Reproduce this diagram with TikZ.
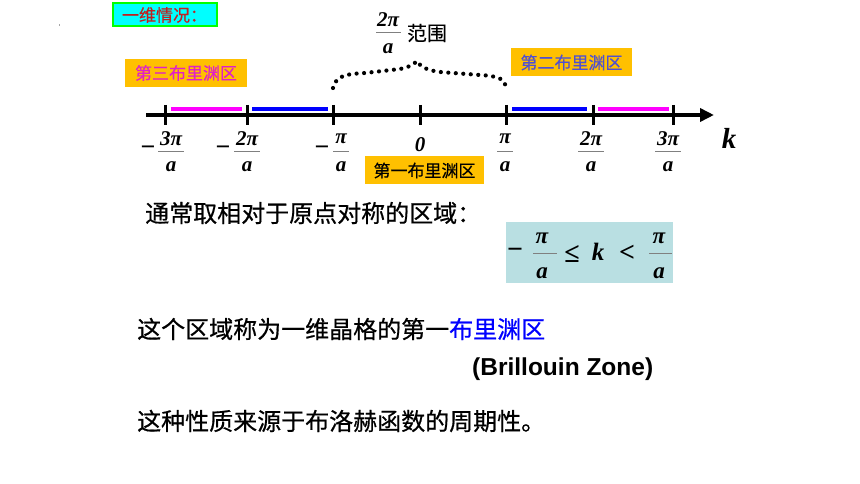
\documentclass[tikz,border=0pt]{standalone}
\usepackage{fontspec}
\setmainfont{Liberation Serif}
\newfontfamily\cjk[FakeBold=0.6]{Noto Sans CJK SC}
\newfontfamily\cjkb[FakeBold=0.3]{Noto Sans CJK SC}
\newfontfamily\arial{Liberation Sans}
\usetikzlibrary{arrows.meta}
\definecolor{zoneorange}{RGB}{255,192,0}
\definecolor{titlered}{RGB}{192,32,32}
\definecolor{titlecyan}{RGB}{0,255,255}
\definecolor{titlegreen}{RGB}{0,255,0}
\definecolor{zonetwo}{RGB}{80,80,208}
\definecolor{zonethree}{RGB}{224,32,200}
\definecolor{formulabg}{RGB}{185,223,226}
\definecolor{segmag}{RGB}{255,0,255}
\definecolor{segblue}{RGB}{0,0,255}
\tikzset{
  axisline/.style={line width=4.5, -{Triangle[length=14,width=13]}},
  tickline/.style={line width=3},
  segline/.style={line width=3.5},
  lab/.style={inner sep=0, font=\fontsize{21}{23}\selectfont\bfseries\itshape},
  minuslab/.style={inner sep=0, font=\fontsize{26}{28}\selectfont\bfseries},
  fbar/.style={line width=1, draw=gray},
  zonebox/.style={fill=zoneorange, inner sep=0, minimum height=28, font=\cjkb\fontsize{17}{19}\selectfont},
  body/.style={inner sep=0, anchor=west, font=\cjk\fontsize{24}{28}\selectfont},
  dotbrace/.style={line width=4.2, line cap=round, dash pattern=on 0pt off 7.5pt},
}
\newcommand\kfrac[4]{%
  \node[lab] (#1n) at (#2,139) {#3};
  \node[lab] (#1d) at (#2,167) {a};
  \draw[fbar] ({#2-#4},152) -- ({#2+#4},152);
}
\begin{document}
\begin{tikzpicture}[x=1pt,y=-1pt]
\useasboundingbox (0,0) rectangle (860,484);
\fill[white] (0,0) rectangle (860,484);
\fill[gray!70] (59,24) rectangle (60,26);

% title box
\node[draw=titlegreen, line width=2, fill=titlecyan, inner sep=0, minimum width=104, minimum height=23,
      font=\cjkb\fontsize{17}{19}\selectfont, text=titlered] (title) at (164.5,15) {一维情况：};

% axis
\coordinate (axL) at (146,115);
\coordinate (axR) at (714,115);
\draw[axisline] (axL) -- (axR);
\foreach \x in {165,247,333,420,506,593,673} {
  \draw[tickline] (\x,105) -- (\x,125);
}
% coloured segments
\draw[segline, segmag] (171,109) -- (242,109);
\draw[segline, segblue] (252,109) -- (328,109);
\draw[segline, segblue] (512,109) -- (587,109);
\draw[segline, segmag] (598,109) -- (669,109);

% tick labels
\node[minuslab] (mm3) at (148,151) {−};
\node[minuslab] (mm2) at (223,151) {−};
\node[minuslab] (mm1) at (322,151) {−};
\kfrac{m3}{171}{3π}{13}
\kfrac{m2}{247}{2π}{13}
\kfrac{m1}{341}{π}{8}
\node[lab] (zero) at (420,145) {0};
\kfrac{p1}{505}{π}{8}
\kfrac{p2}{591}{2π}{13}
\kfrac{p3}{668}{3π}{13}
\node[lab, font=\fontsize{29}{30}\selectfont\bfseries\itshape] (kk) at (729,138) {k};

% zone labels
\node[zonebox, minimum width=122, text=zonethree] (zone3) at (186,73) {第三布里渊区};
\node[zonebox, minimum width=121, text=zonetwo] (zone2) at (571.5,62.5) {第二布里渊区};
\node[zonebox, minimum width=119, text=black] (zone1) at (424.5,170.5) {第一布里渊区};

% dotted brace
\draw[dotbrace] (333,88) .. controls (336,76) and (345,74) .. (365,73)
  -- (400,69) .. controls (410,67) and (414,64) .. (417,61)
  .. controls (420,66) and (425,70) .. (440,72)
  -- (480,75) .. controls (500,76) and (505,80) .. (506,87);

% 2pi/a range label
\node[lab] (rn) at (388,20) {2π};
\node[lab] (rd) at (388,49) {a};
\draw[fbar] (376,33) -- (401,33);
\node[inner sep=0, font=\cjkb\fontsize{20}{22}\selectfont] (range) at (427,33) {范围};

% body text
\node[body] (line1) at (145,213) {通常取相对于原点对称的区域：};
\fill[formulabg] (506,222) rectangle (673,283);
\node[minuslab, font=\fontsize{28}{30}\selectfont\bfseries] (fminus) at (515,253) {−};
\node[lab, font=\fontsize{23}{25}\selectfont\bfseries\itshape] (fn1) at (542,238) {π};
\node[lab, font=\fontsize{23}{25}\selectfont\bfseries\itshape] (fd1) at (542,273) {a};
\draw[fbar] (533,253) -- (557,253);
\node[lab, font=\fontsize{28}{30}\selectfont\bfseries] (fle) at (572,254) {≤};
\node[lab, font=\fontsize{25}{27}\selectfont\bfseries\itshape] (fk) at (598,252) {k};
\node[lab, font=\fontsize{28}{30}\selectfont\bfseries] (flt) at (627,253) {<};
\node[lab, font=\fontsize{23}{25}\selectfont\bfseries\itshape] (fn2) at (659,238) {π};
\node[lab, font=\fontsize{23}{25}\selectfont\bfseries\itshape] (fd2) at (659,273) {a};
\draw[fbar] (649,253) -- (672,253);

\node[body] (line2) at (137,329) {这个区域称为一维晶格的第一\textcolor{segblue}{布里渊区}};
\node[inner sep=0, anchor=west, font=\arial\bfseries\fontsize{24.5}{28}\selectfont] (bz) at (472,369) {(Brillouin Zone)};
\node[body] (line3) at (137,421) {这种性质来源于布洛赫函数的周期性。};
\end{tikzpicture}
\end{document}
